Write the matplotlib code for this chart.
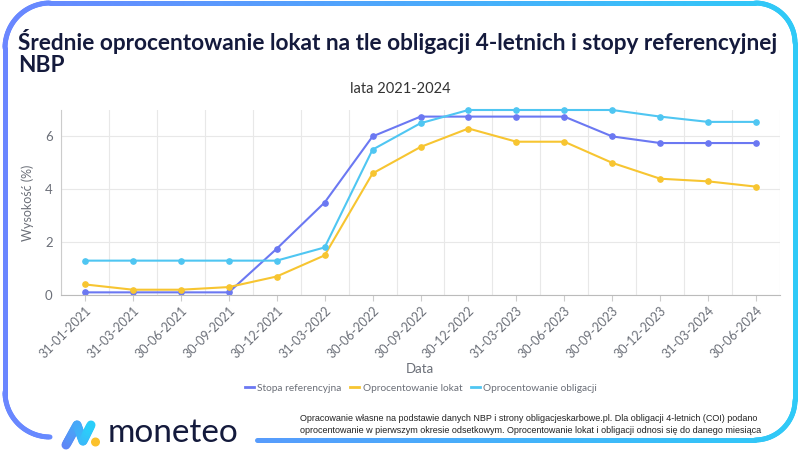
import numpy as np
from matplotlib import pyplot as plt
from matplotlib.collections import LineCollection
from matplotlib.colors import LinearSegmentedColormap

# data
dates = [
    "31-01-2021", "31-03-2021", "30-06-2021", "30-09-2021", "30-12-2021",
    "31-03-2022", "30-06-2022", "30-09-2022", "30-12-2022", "31-03-2023",
    "30-06-2023", "30-09-2023", "30-12-2023", "31-03-2024", "30-06-2024",
]
stopa_ref = [0.1, 0.1, 0.1, 0.1, 1.75, 3.5, 6.0, 6.75, 6.75, 6.75, 6.75, 6.0, 5.75, 5.75, 5.75]
lokaty = [0.4, 0.2, 0.2, 0.3, 0.7, 1.5, 4.6, 5.6, 6.3, 5.8, 5.8, 5.0, 4.4, 4.3, 4.1]
obligacje = [1.3, 1.3, 1.3, 1.3, 1.3, 1.8, 5.5, 6.5, 7.0, 7.0, 7.0, 7.0, 6.75, 6.55, 6.55]

TITLE = "Średnie oprocentowanie lokat na tle obligacji 4-letnich i stopy referencyjnej\nNBP"
SUBTITLE = "lata 2021-2024"
FOOTNOTE = (
    "Opracowanie własne na podstawie danych NBP i strony obligacjeskarbowe.pl. "
    "Dla obligacji 4-letnich (COI) podano\n"
    "oprocentowanie w pierwszym okresie odsetkowym. Oprocentowanie lokat i "
    "obligacji odnosi się do danego miesiąca"
)

C_STOPA = "#6b78f2"
C_LOKATY = "#f7c531"
C_OBLIG = "#4fc6f2"
GREY_TXT = "#6b6f78"

border_cmap = LinearSegmentedColormap.from_list("border", ["#6a86ff", "#2fcaf7"])


def arc(cx, cy, r, a0, a1, n=40):
    t = np.radians(np.linspace(a0, a1, n))
    return np.column_stack([cx + r * np.cos(t), cy + r * np.sin(t)])


def gradient_path(ax, pts, lw, cmap, x0=0, x1=800):
    # densify so each small segment gets its own colour
    dense = [pts[0]]
    for a, b in zip(pts[:-1], pts[1:]):
        n = max(2, int(np.hypot(*(b - a)) / 2))
        dense.extend(np.linspace(a, b, n)[1:])
    dense = np.array(dense)
    segs = np.stack([dense[:-1], dense[1:]], axis=1)
    xm = segs[:, :, 0].mean(axis=1)
    lc = LineCollection(segs, colors=cmap((xm - x0) / (x1 - x0)), linewidths=lw,
                        capstyle="round", joinstyle="round")
    ax.add_collection(lc)


fig = plt.figure(figsize=(8, 4.5), dpi=100)

# background layer in pixel coordinates (y down)
bg = fig.add_axes([0, 0, 1, 1], zorder=-1)
bg.set_xlim(0, 800)
bg.set_ylim(450, 0)
bg.axis("off")

# rounded border, open at bottom-left for the logo
main = np.vstack([
    np.array([[5, 395]]),
    arc(50, 48, 45, 180, 270),
    arc(755, 43, 40, 270, 360),
    arc(755, 400, 40, 0, 90),
    np.array([[257, 440]]),
])
gradient_path(bg, main, 3.6, border_cmap)
left_bottom = np.vstack([np.array([[5, 380]]), arc(50, 392, 45, 180, 90)])
gradient_path(bg, left_bottom, 3.6, border_cmap)

# logo
icon_cmap = LinearSegmentedColormap.from_list("icon", ["#6a78f5", "#27d3fa"])
icon = np.array([[66, 445], [77, 425], [83, 441], [91, 425]], dtype=float)
gradient_path(bg, icon, 6.5, icon_cmap, x0=62, x1=92)
bg.add_patch(plt.Circle((95.5, 442), 3.8, color="#fbc12c"))
bg.text(108, 442.5, "moneteo", fontsize=24, family="Lato", color="#141a3c",
        va="baseline", ha="left")

# titles and footnote
fig.text(18 / 800, 1 - 72 / 450, TITLE, fontsize=16.3, family="Lato", weight="bold",
         color="#141a3c", va="baseline", ha="left", linespacing=1.05)
fig.text(400 / 800, 1 - 93 / 450, SUBTITLE, fontsize=10.5, family="Lato",
         color="#333333", ha="center", va="baseline")
fig.text(300 / 800, 1 - 433 / 450, FOOTNOTE, fontsize=6.5, family="Liberation Sans",
         color="#222222", ha="left", va="baseline", linespacing=1.45)

# chart
ax = fig.add_axes([61 / 800, 1 - 295 / 450, 719 / 800, 185 / 450])
x = np.arange(len(dates))
for vals, col, name in [(stopa_ref, C_STOPA, "Stopa referencyjna"),
                        (lokaty, C_LOKATY, "Oprocentowanie lokat"),
                        (obligacje, C_OBLIG, "Oprocentowanie obligacji")]:
    ax.plot(x, vals, color=col, lw=1.5, marker="o", ms=3.8, label=name, clip_on=False)

ax.set_xlim(-0.5, len(dates) - 0.5)
ax.set_ylim(0, 7)
ax.set_yticks([0, 2, 4, 6])
ax.set_xticks(x)
ax.set_xticklabels(dates, rotation=45, ha="right", rotation_mode="anchor",
                   family="Lato", fontsize=9, color=GREY_TXT)
for lbl in ax.get_yticklabels():
    lbl.set_family("Lato")
    lbl.set_fontsize(9.5)
    lbl.set_color(GREY_TXT)

ax.set_xticks(np.arange(len(dates) + 1) - 0.5, minor=True)
ax.grid(True, which="minor", axis="x", color="#e8e8e8", lw=0.8)
ax.grid(True, which="major", axis="y", color="#e8e8e8", lw=0.8)
ax.tick_params(axis="x", which="major", length=4, color="#cccccc", pad=3)
ax.tick_params(axis="x", which="minor", length=0)
ax.tick_params(axis="y", length=0, pad=6)
ax.set_axisbelow(True)
for side in ("top", "right"):
    ax.spines[side].set_visible(False)
ax.spines["left"].set_color("#cccccc")
ax.spines["bottom"].set_color("#bbbbbb")

ax.set_ylabel("Wysokość (%)", family="Lato", fontsize=9, color=GREY_TXT, labelpad=8)
fig.text(420 / 800, 1 - 373 / 450, "Data", family="Lato", fontsize=9.5, color=GREY_TXT,
         ha="center", va="baseline")

leg = fig.legend(loc="center", bbox_to_anchor=(421 / 800, 1 - 388 / 450), ncol=3,
                 frameon=False, handlelength=0.9, handletextpad=0.3, columnspacing=0.9,
                 prop={"family": "Lato", "size": 7.3})
for txt in leg.get_texts():
    txt.set_color(GREY_TXT)
for line in leg.get_lines():
    line.set_marker("")
    line.set_linewidth(2)

fig.savefig("out.png", dpi=100)
